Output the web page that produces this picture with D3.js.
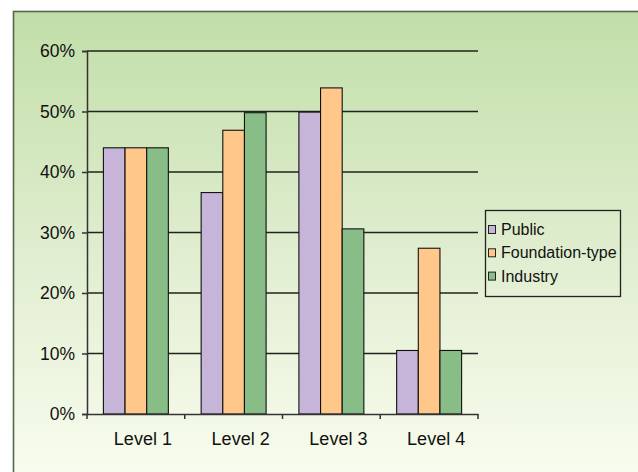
<!DOCTYPE html>
<html>
<head>
<meta charset="utf-8">
<script src="https://cdn.jsdelivr.net/npm/d3@7"></script>
<style>
html,body{margin:0;padding:0;background:#fff;}
svg{display:block;}
text{font-family:"Liberation Sans",Arial,sans-serif;fill:#111;}
</style>
</head>
<body>
<svg id="chart" width="638" height="472"></svg>
<script>
const categories = ["Level 1", "Level 2", "Level 3", "Level 4"];
const seriesNames = ["Public", "Foundation-type", "Industry"];
const publicVals = [44, 36.6, 49.9, 10.5];
const foundationVals = [44, 46.9, 53.9, 27.4];
const industryVals = [44, 49.8, 30.6, 10.5];
const yTicks = [0, 10, 20, 30, 40, 50, 60];
const colors = ["#c6b5d8", "#ffc88a", "#88bd88"];

const seriesVals = [publicVals, foundationVals, industryVals];

const svg = d3.select("#chart");
const defs = svg.append("defs");
const grad = defs.append("linearGradient").attr("id", "bg").attr("x1", 0).attr("y1", 0).attr("x2", 0).attr("y2", 1);
grad.append("stop").attr("offset", "0%").attr("stop-color", "#c1dea8");
grad.append("stop").attr("offset", "55%").attr("stop-color", "#e3efd3");
grad.append("stop").attr("offset", "100%").attr("stop-color", "#fafdf0");

svg.append("rect").attr("x", 13.5).attr("y", 11.5).attr("width", 640).attr("height", 480)
  .attr("fill", "url(#bg)").attr("stroke", "#56664d").attr("stroke-width", 1.6);

const x = d3.scaleBand().domain(categories).range([87, 478]);
const xi = d3.scaleBand().domain(seriesNames).range([16.4, x.bandwidth() - 16.4]);
const y = d3.scaleLinear().domain([0, 60]).range([414, 51]);

// gridlines
svg.append("g").selectAll("line").data(yTicks.filter(d => d > 0)).join("line")
  .attr("x1", 87).attr("x2", 478).attr("y1", d => y(d)).attr("y2", d => y(d))
  .attr("stroke", "#222").attr("stroke-width", 1.3);

// bars
const groups = svg.append("g").selectAll("g").data(categories).join("g")
  .attr("transform", d => `translate(${x(d)},0)`);
groups.selectAll("rect").data((c, ci) => seriesNames.map((s, si) => ({s, si, v: seriesVals[si][ci]})))
  .join("rect")
  .attr("x", d => xi(d.s)).attr("width", xi.bandwidth())
  .attr("y", d => y(d.v)).attr("height", d => y(0) - y(d.v))
  .attr("fill", d => colors[d.si]).attr("stroke", "#111").attr("stroke-width", 1.1);

// y axis
const yAxis = svg.append("g").attr("transform", "translate(87,0)")
  .call(d3.axisLeft(y).tickValues(yTicks).tickFormat(d => d + "%").tickSize(5).tickPadding(7));
yAxis.select(".domain").attr("stroke", "#333").attr("stroke-width", 1.5);
yAxis.selectAll(".tick line").attr("stroke", "#333").attr("stroke-width", 1.5);
yAxis.selectAll("text").style("font-size", "17.5px").attr("fill", "#111")
  .style("font-family", "'Liberation Sans', Arial, sans-serif");

// x axis
const xAxis = svg.append("g").attr("transform", `translate(0,${y(0)})`)
  .call(d3.axisBottom(x).tickSize(0).tickPadding(18));
xAxis.select(".domain").attr("stroke", "#333").attr("stroke-width", 1.5);
xAxis.selectAll("text").style("font-size", "18px").attr("fill", "#111")
  .attr("dx", 7)
  .style("font-family", "'Liberation Sans', Arial, sans-serif");
// boundary ticks
const bounds = categories.map(c => x(c)).concat([x.range()[1]]);
svg.append("g").selectAll("line").data(bounds).join("line")
  .attr("x1", d => d).attr("x2", d => d).attr("y1", y(0)).attr("y2", y(0) + 5)
  .attr("stroke", "#333").attr("stroke-width", 1.5);

// legend
const lg = svg.append("g");
lg.append("rect").attr("x", 485.5).attr("y", 210.5).attr("width", 135).attr("height", 86)
  .attr("fill", "none").attr("stroke", "#222").attr("stroke-width", 1.3);
const items = lg.selectAll("g").data(seriesNames).join("g")
  .attr("transform", (d, i) => `translate(0,${235 + i * 23.3})`);
items.append("rect").attr("x", 488.5).attr("y", -9.5).attr("width", 7).attr("height", 8)
  .attr("fill", (d, i) => colors[i]).attr("stroke", "#222").attr("stroke-width", 1);
items.append("text").attr("x", 501).attr("y", 0).style("font-size", "16px").text(d => d);
</script>
</body>
</html>
